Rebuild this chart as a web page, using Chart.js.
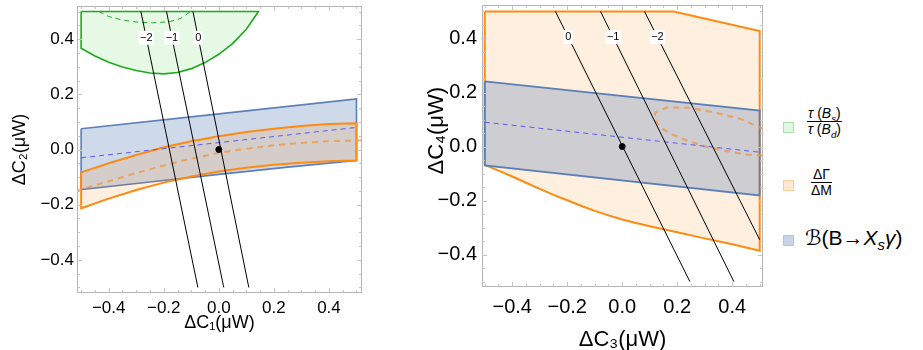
<!DOCTYPE html>
<html>
<head>
<meta charset="utf-8">
<script src="https://cdn.jsdelivr.net/npm/chart.js@4.4.1/dist/chart.umd.min.js"></script>
<style>
    body { margin: 0; background: #fff; width: 923px; height: 350px; overflow: hidden; position: relative;
           font-family: "Liberation Sans", Arial, "DejaVu Sans", sans-serif; color: #000; }
    #leftBox { position: absolute; left: 0; top: 0; width: 370px; height: 350px; }
    #rightBox { position: absolute; left: 420px; top: 0; width: 350px; height: 350px; }
    .sw { position: absolute; width: 9px; height: 9px; border: 1px solid; }
    .frac { position: absolute; text-align: center; line-height: 14px; }
    .frac .num { border-bottom: 1px solid #000; padding: 0 1px 1px; }
    .frac sub, .key sub { font-size: 70%; line-height: 0; }
    .key { position: absolute; white-space: nowrap; }
</style>
</head>
<body>
<div id="leftBox"><canvas id="leftChart"></canvas></div>
<div id="rightBox"><canvas id="rightChart"></canvas></div>

<div class="sw" style="left:783px;top:122px;background:#e1f7e1;border-color:#a8e2a8"></div>
<div class="frac" style="left:807px;top:106px;font-size:14px">
    <div class="num"><i>τ</i> (<i>B<sub>s</sub></i>)</div>
    <div><i>τ</i> (<i>B<sub>d</sub></i>)</div>
</div>
<div class="sw" style="left:783px;top:180px;background:#ffe9d3;border-color:#ffca98"></div>
<div class="frac" style="left:811px;top:167px;font-size:14px">
    <div class="num">ΔΓ</div>
    <div>ΔM</div>
</div>
<div class="sw" style="left:783px;top:235px;background:#c9d4e6;border-color:#b7c5dd"></div>
<div class="key" style="left:805px;top:226px;font-size:21px">ℬ(B→<i>X<sub>s</sub>γ</i>)</div>

<script>
// ---- left panel: ΔC1 (x) vs ΔC2 (y) ----
const leftTop = 0.5;
const leftGreenLower = [[-0.5, 0.367], [-0.45, 0.339], [-0.4, 0.316], [-0.35, 0.299], [-0.3, 0.286],
    [-0.25, 0.277], [-0.2, 0.274], [-0.15, 0.279], [-0.1, 0.293], [-0.05, 0.315], [0, 0.345],
    [0.05, 0.384], [0.1, 0.436], [0.144, 0.5]];
const leftGreenDash = [[-0.435, 0.5], [-0.4, 0.482], [-0.35, 0.469], [-0.3, 0.462], [-0.24, 0.459],
    [-0.18, 0.463], [-0.14, 0.474], [-0.102, 0.5]];
const leftBlueTop = [[-0.5, 0.075], [0, 0.129], [0.5, 0.183]];
const leftBlueBottom = [[-0.5, -0.145], [-0.25, -0.118], [0, -0.09], [0.25, -0.064], [0.5, -0.04]];
const leftBlueDash = [[-0.5, -0.03], [0.5, 0.08]];
const leftOrangeTop = [[-0.5, -0.083], [-0.4, -0.05], [-0.3, -0.02], [-0.2, 0.008], [-0.1, 0.03],
    [0, 0.048], [0.1, 0.063], [0.2, 0.075], [0.3, 0.085], [0.4, 0.092], [0.5, 0.095]];
const leftOrangeBottom = [[-0.5, -0.213], [-0.4, -0.178], [-0.3, -0.147], [-0.2, -0.12], [-0.1, -0.098],
    [0, -0.08], [0.1, -0.066], [0.2, -0.055], [0.3, -0.048], [0.4, -0.043], [0.5, -0.04]];
const leftOrangeDash = [[-0.52, -0.15], [-0.4, -0.115], [-0.3, -0.085], [-0.2, -0.058], [-0.1, -0.033],
    [0, -0.012], [0.1, 0.003], [0.2, 0.015], [0.3, 0.024], [0.4, 0.03], [0.52, 0.033]];
const leftContours = [
    [[-0.283, 0.5], [-0.076, -0.5]],
    [[-0.19, 0.5], [0.018, -0.5]],
    [[-0.094, 0.5], [0.109, -0.5]]
];
const leftContourLabels = ['−2', '−1', '0'];

// ---- right panel: ΔC3 (x) vs ΔC4 (y) ----
const rightOrangeTop = [[-0.5, 0.5], [0.187, 0.5], [0.5, 0.428]];
const rightOrangeBottom = [[-0.5, -0.068], [-0.45, -0.089], [-0.4, -0.111], [-0.35, -0.134], [-0.3, -0.157],
    [-0.25, -0.179], [-0.2, -0.199], [-0.15, -0.219], [-0.1, -0.238], [-0.05, -0.255], [0, -0.27],
    [0.05, -0.283], [0.1, -0.295], [0.15, -0.306], [0.2, -0.317], [0.3, -0.34], [0.4, -0.362], [0.5, -0.386]];
const rightBlueTop = [[-0.5, 0.241], [0.5, 0.133]];
const rightBlueBottom = [[-0.5, -0.07], [0.5, -0.181]];
const rightBlueDash = [[-0.5, 0.09], [0.5, -0.021]];
const rightOrangeDash = [[0.515, 0.065], [0.43, 0.102], [0.345, 0.124], [0.248, 0.143], [0.164, 0.145],
    [0.121, 0.127], [0.117, 0.102], [0.139, 0.071], [0.176, 0.047], [0.236, 0.022], [0.309, -0.002],
    [0.382, -0.017], [0.455, -0.03], [0.515, -0.033]];
const rightContours = [
    [[-0.243, 0.5], [0.246, -0.5]],
    [[-0.079, 0.5], [0.406, -0.5]],
    [[0.081, 0.5], [0.5, -0.345]]
];
const rightContourLabels = ['0', '−1', '−2'];

const contourLabelAt = 0.405;
const origin = [[0, 0]];

const FONT = '"Liberation Sans", Arial, sans-serif';
const ORANGE = '#ff8a12';
const BLUE = '#5b7fb7';
const GREEN = '#1ea81e';

function pts(arr) { return arr.map(p => ({ x: p[0], y: p[1] })); }
function polygon(top, bottom) {
    const ring = top.concat(bottom.slice().reverse());
    ring.push(top[0]);
    return pts(ring);
}

function region(top, bottom, line, fillColor, width) {
    return {
        data: polygon(top, bottom), borderColor: line, backgroundColor: fillColor,
        borderWidth: width, fill: 'shape', pointRadius: 0, tension: 0
    };
}
function dashed(arr, color, width, dash) {
    return { data: pts(arr), borderColor: color, borderWidth: width, borderDash: dash, fill: false, pointRadius: 0 };
}
function contour(arr, label) {
    return { data: pts(arr), borderColor: '#000', borderWidth: 1, fill: false, pointRadius: 0, contourLabel: label };
}
function dot() {
    return { data: pts(origin), showLine: false, pointRadius: 3, pointBackgroundColor: '#000', pointBorderColor: '#000' };
}

function fmt(v) {
    if (Math.abs(v) < 1e-9) return '0.0';
    return v.toFixed(1).replace('-', '−');
}

// frame with inward ticks, and the white-boxed contour labels
const framePlugin = {
    id: 'frame',
    afterDatasetsDraw(chart) {
        const { ctx, chartArea: a, scales } = chart;
        ctx.save();
        // contour labels
        ctx.font = '11px ' + FONT;
        ctx.textAlign = 'center';
        ctx.textBaseline = 'middle';
        chart.data.datasets.forEach(ds => {
            if (!ds.contourLabel) return;
            const p0 = ds.data[0], p1 = ds.data[1];
            const t = (contourLabelAt - p0.y) / (p1.y - p0.y);
            const px = scales.x.getPixelForValue(p0.x + t * (p1.x - p0.x));
            const py = scales.y.getPixelForValue(contourLabelAt);
            const w = ctx.measureText(ds.contourLabel).width + 3;
            ctx.fillStyle = '#fff';
            ctx.fillRect(px - w / 2, py - 7, w, 14);
            ctx.fillStyle = '#000';
            ctx.fillText(ds.contourLabel, px, py);
        });
        // frame
        ctx.strokeStyle = '#b4b4b4';
        ctx.lineWidth = 1;
        ctx.strokeRect(a.left + 0.5, a.top + 0.5, a.width - 1, a.height - 1);
        ctx.strokeStyle = '#c4c4c4';
        ctx.beginPath();
        for (let v = -0.5; v <= 0.501; v += 0.05) {
            const major = Math.abs(Math.round(v * 10) - v * 10) < 1e-6 && Math.round(v * 10) % 2 === 0;
            const len = major ? 5 : 3;
            const x = Math.round(scales.x.getPixelForValue(v)) + 0.5;
            ctx.moveTo(x, a.bottom); ctx.lineTo(x, a.bottom - len);
            ctx.moveTo(x, a.top); ctx.lineTo(x, a.top + len);
            const y = Math.round(scales.y.getPixelForValue(v)) + 0.5;
            ctx.moveTo(a.left, y); ctx.lineTo(a.left + len, y);
            ctx.moveTo(a.right, y); ctx.lineTo(a.right - len, y);
        }
        ctx.stroke();
        ctx.restore();
    }
};

function makeChart(id, datasets, cfg) {
    return new Chart(document.getElementById(id), {
        type: 'line',
        data: { datasets },
        plugins: [framePlugin],
        options: {
            responsive: true,
            maintainAspectRatio: false,
            animation: false,
            events: [],
            layout: { padding: { top: cfg.padTop, right: cfg.padRight, left: 0, bottom: 0 } },
            plugins: { legend: { display: false }, tooltip: { enabled: false } },
            scales: {
                x: {
                    type: 'linear', min: cfg.xMin, max: cfg.xMax,
                    grid: { display: false, drawTicks: false }, border: { display: false },
                    ticks: { stepSize: 0.2, includeBounds: false, padding: cfg.xTickPad, color: '#000',
                             maxRotation: 0, autoSkip: false, font: { family: FONT, size: cfg.tickSize }, callback: fmt },
                    title: { display: true, text: cfg.xTitle, color: '#000',
                             font: { family: FONT, size: cfg.titleSize, lineHeight: 1.2 }, padding: { top: 0, bottom: cfg.xTitlePad } },
                    afterFit(s) { s.height = cfg.xAxisH; s.paddingLeft = 0; s.paddingRight = 0; }
                },
                y: {
                    type: 'linear', min: cfg.yMin, max: cfg.yMax,
                    grid: { display: false, drawTicks: false }, border: { display: false },
                    ticks: { stepSize: 0.2, includeBounds: false, padding: cfg.yTickPad, color: '#000',
                             autoSkip: false, font: { family: FONT, size: cfg.tickSize }, callback: fmt },
                    title: { display: true, text: cfg.yTitle, color: '#000',
                             font: { family: FONT, size: cfg.titleSize, lineHeight: 1.2 }, padding: { top: cfg.yTitlePad, bottom: 0 } },
                    afterFit(s) { s.width = cfg.yAxisW; s.paddingTop = 0; s.paddingBottom = 0; }
                }
            }
        }
    });
}

// left: orange band drawn over blue band
makeChart('leftChart', [
    dot(),
    ...leftContours.map((c, i) => contour(c, leftContourLabels[i])),
    dashed(leftBlueDash, '#5a5aff', 1, [5, 4]),
    dashed(leftOrangeDash, 'rgba(240,150,70,0.75)', 2, [6, 5]),
    dashed(leftGreenDash, GREEN, 1, [5, 4]),
    region(leftOrangeTop, leftOrangeBottom, ORANGE, 'rgba(255,128,0,0.13)', 2),
    region(leftBlueTop, leftBlueBottom, BLUE, 'rgba(94,129,181,0.3)', 1.6),
    region([[-0.5, leftTop], [0.144, leftTop]], leftGreenLower, GREEN, 'rgba(0,200,0,0.1)', 1.6)
], {
    padTop: 6, padRight: 8, xMin: -0.515, xMax: 0.52, yMin: -0.52, yMax: 0.52,
    tickSize: 17, titleSize: 18, xTickPad: 5, yTickPad: 3, xTitlePad: 16, yTitlePad: 9,
    xAxisH: 57, yAxisW: 77, xTitle: 'ΔC₁(μW)', yTitle: 'ΔC₂(μW)'
});

// right: blue band drawn over orange region
makeChart('rightChart', [
    dot(),
    ...rightContours.map((c, i) => contour(c, rightContourLabels[i])),
    dashed(rightBlueDash, '#5a5aff', 1, [5, 4]),
    dashed(rightOrangeDash, 'rgba(240,150,70,0.75)', 2.2, [6, 5]),
    region(rightBlueTop, rightBlueBottom, BLUE, 'rgba(94,129,181,0.3)', 1.8),
    region(rightOrangeTop, rightOrangeBottom, ORANGE, 'rgba(255,128,0,0.13)', 2)
], {
    padTop: 4, padRight: 7, xMin: -0.51, xMax: 0.512, yMin: -0.52, yMax: 0.524,
    tickSize: 20, titleSize: 22, xTickPad: 8, yTickPad: 5, xTitlePad: -3, yTitlePad: 4,
    xAxisH: 63, yAxisW: 62, xTitle: 'ΔC₃(μW)', yTitle: '     ΔC₄(μW)'
});
</script>
</body>
</html>
